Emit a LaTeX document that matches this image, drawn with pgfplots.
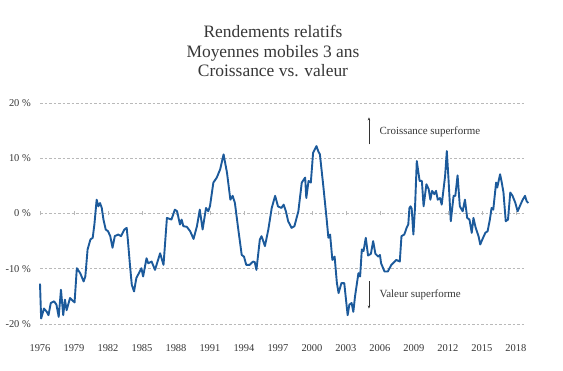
\documentclass[border=0pt]{standalone}
\usepackage{fontspec}
\setmainfont{Liberation Serif}
\usepackage{pgfplots}
\pgfplotsset{compat=1.18}
\usetikzlibrary{arrows.meta}
\definecolor{lineblue}{RGB}{28,90,155}
\definecolor{gridgray}{RGB}{185,185,185}
\definecolor{txt}{RGB}{55,55,55}
\pgfplotstableread{
year val
1976.0 -12.7
1976.1 -19.0
1976.35 -17.2
1976.6 -17.8
1976.75 -18.4
1976.95 -16.2
1977.25 -15.9
1977.45 -16.5
1977.65 -18.7
1977.85 -13.8
1978.05 -18.4
1978.2 -15.6
1978.35 -17.5
1978.65 -15.3
1979.05 -16.1
1979.25 -9.9
1979.55 -10.8
1979.85 -12.3
1980.0 -11.4
1980.2 -6.5
1980.45 -4.7
1980.65 -4.4
1980.8 -2.0
1981.0 2.5
1981.15 1.3
1981.3 1.9
1981.45 1.0
1981.6 -1.1
1981.8 -2.9
1982.0 -3.2
1982.2 -4.1
1982.4 -6.2
1982.6 -4.1
1982.9 -3.8
1983.15 -4.1
1983.45 -2.9
1983.65 -2.6
1983.75 -4.7
1983.95 -9.6
1984.1 -12.9
1984.3 -14.1
1984.5 -11.7
1984.8 -10.5
1984.95 -9.9
1985.1 -11.4
1985.4 -8.1
1985.55 -9.0
1985.85 -8.7
1986.15 -10.2
1986.6 -7.2
1986.9 -9.3
1987.2 -0.8
1987.6 -1.1
1987.9 0.7
1988.1 0.4
1988.35 -2.0
1988.5 -1.1
1988.65 -2.3
1988.95 -2.4
1989.25 -3.2
1989.55 -4.6
1989.85 -2.3
1990.1 0.7
1990.35 -2.9
1990.65 1.0
1990.85 0.4
1991.0 1.3
1991.3 5.6
1991.6 6.5
1991.9 8.0
1992.2 10.7
1992.5 7.4
1992.8 2.5
1993.0 3.2
1993.2 1.9
1993.5 -2.9
1993.8 -7.5
1994.0 -7.8
1994.2 -9.3
1994.5 -9.3
1994.8 -8.7
1994.95 -8.8
1995.1 -10.2
1995.4 -4.7
1995.55 -4.1
1995.85 -5.9
1996.15 -2.9
1996.45 1.0
1996.75 3.2
1997.0 1.3
1997.3 1.0
1997.5 1.6
1997.7 0.4
1997.9 -1.4
1998.2 -2.6
1998.45 -2.3
1998.8 0.4
1999.1 5.6
1999.4 6.5
1999.5 2.8
1999.7 5.9
1999.9 5.6
2000.1 11.0
2000.4 12.2
2000.55 11.3
2000.7 10.7
2001.0 5.0
2001.3 -1.1
2001.45 -4.4
2001.6 -3.8
2001.8 -8.4
2002.0 -7.8
2002.2 -12.6
2002.35 -14.4
2002.6 -12.6
2002.85 -12.6
2003.05 -16.5
2003.15 -18.4
2003.3 -16.5
2003.5 -16.2
2003.65 -17.8
2003.8 -15.0
2004.1 -10.8
2004.25 -11.4
2004.4 -6.5
2004.55 -6.8
2004.75 -4.4
2004.95 -7.6
2005.2 -7.3
2005.4 -5.0
2005.6 -7.3
2005.85 -7.8
2006.0 -7.5
2006.1 -9.0
2006.4 -10.5
2006.7 -10.5
2007.0 -9.3
2007.45 -8.4
2007.75 -8.7
2007.9 -4.1
2008.15 -3.8
2008.35 -2.6
2008.5 -2.0
2008.6 1.0
2008.7 1.3
2008.8 0.9
2008.95 -3.8
2009.1 1.3
2009.25 9.5
2009.5 5.9
2009.7 5.9
2009.85 1.3
2010.1 5.3
2010.3 4.4
2010.45 2.5
2010.6 4.1
2010.8 3.5
2010.95 4.1
2011.1 2.5
2011.3 2.8
2011.45 1.6
2011.75 6.8
2011.9 11.3
2012.05 6.2
2012.25 -1.4
2012.5 3.2
2012.65 3.2
2012.85 6.9
2013.05 1.3
2013.3 0.4
2013.5 2.5
2013.7 -0.8
2013.9 -1.1
2014.1 -3.5
2014.25 -0.8
2014.45 -2.6
2014.7 -4.1
2014.85 -5.6
2015.1 -4.4
2015.3 -3.5
2015.5 -3.2
2015.7 -1.1
2015.85 1.0
2016.0 0.7
2016.25 5.6
2016.35 4.7
2016.6 7.1
2016.75 5.6
2016.9 3.8
2017.1 -1.4
2017.3 -1.1
2017.5 3.8
2017.7 3.2
2017.95 1.9
2018.15 0.4
2018.4 1.6
2018.6 2.5
2018.8 3.2
2018.95 2.2
2019.1 1.9
}\datatable
\begin{document}
\begin{tikzpicture}
\path[use as bounding box] (0,0) rectangle (563bp,371bp);
\node[align=center, text=txt, font=\fontsize{17.5}{19.5}\selectfont] at (273bp,320bp)
  {Rendements relatifs\\Moyennes mobiles 3 ans\\Croissance vs. valeur};
% small tick marks on the zero line
\begin{axis}[
  at={(40bp,47bp)}, anchor=south west, scale only axis,
  width=485bp, height=221bp,
  xmin=1976, xmax=2018.8, ymin=-20, ymax=20,
  axis x line=middle, axis y line=none,
  x axis line style={draw=none},
  xtick={1976,1979,1982,1985,1988,1991,1994,1997,2000,2003,2006,2009,2012,2015,2018},
  xticklabels={},
  ytick=\empty,
  major tick length=4bp,
  tick style={gridgray, line width=0.6bp},
]
\end{axis}
\begin{axis}[
  at={(40bp,47bp)}, anchor=south west, scale only axis,
  width=485bp, height=221bp,
  xmin=1976, xmax=2018.8, ymin=-20, ymax=20,
  clip=false,
  axis line style={draw=none},
  major tick length=0pt,
  ytick={-20,-10,0,10,20},
  yticklabels={-20 \%,-10 \%,0 \%,10 \%,20 \%},
  xtick={1976,1979,1982,1985,1988,1991,1994,1997,2000,2003,2006,2009,2012,2015,2018},
  xticklabels={1976,1979,1982,1985,1988,1991,1994,1997,2000,2003,2006,2009,2012,2015,2018},
  ymajorgrids,
  grid style={gridgray, line width=0.8bp, dash pattern=on 2.5bp off 2bp},
  ticklabel style={text=txt, font=\fontsize{10.5}{12}\selectfont},
  xticklabel style={anchor=center, inner sep=0pt, yshift=-24bp},
  yticklabel style={anchor=east, inner sep=0pt, xshift=-9bp},
]
\addplot[lineblue, line width=1.9bp, line join=round] table[x=year, y=val] {\datatable};
\draw[-{Stealth[length=3bp,width=2.5bp]}, line width=0.6bp, black!80] (axis cs:2005.03,12.5) -- (axis cs:2005.03,17.4);
\draw[-{Stealth[length=3bp,width=2.5bp]}, line width=0.6bp, black!80] (axis cs:2005.03,-12.3) -- (axis cs:2005.03,-17.2);
\node[anchor=west, inner sep=0pt, text=txt, font=\fontsize{11}{13}\selectfont] at (axis cs:2005.95,14.8) {Croissance superforme};
\node[anchor=west, inner sep=0pt, text=txt, font=\fontsize{11}{13}\selectfont] at (axis cs:2005.95,-14.7) {Valeur superforme};
\end{axis}
\end{tikzpicture}
\end{document}
